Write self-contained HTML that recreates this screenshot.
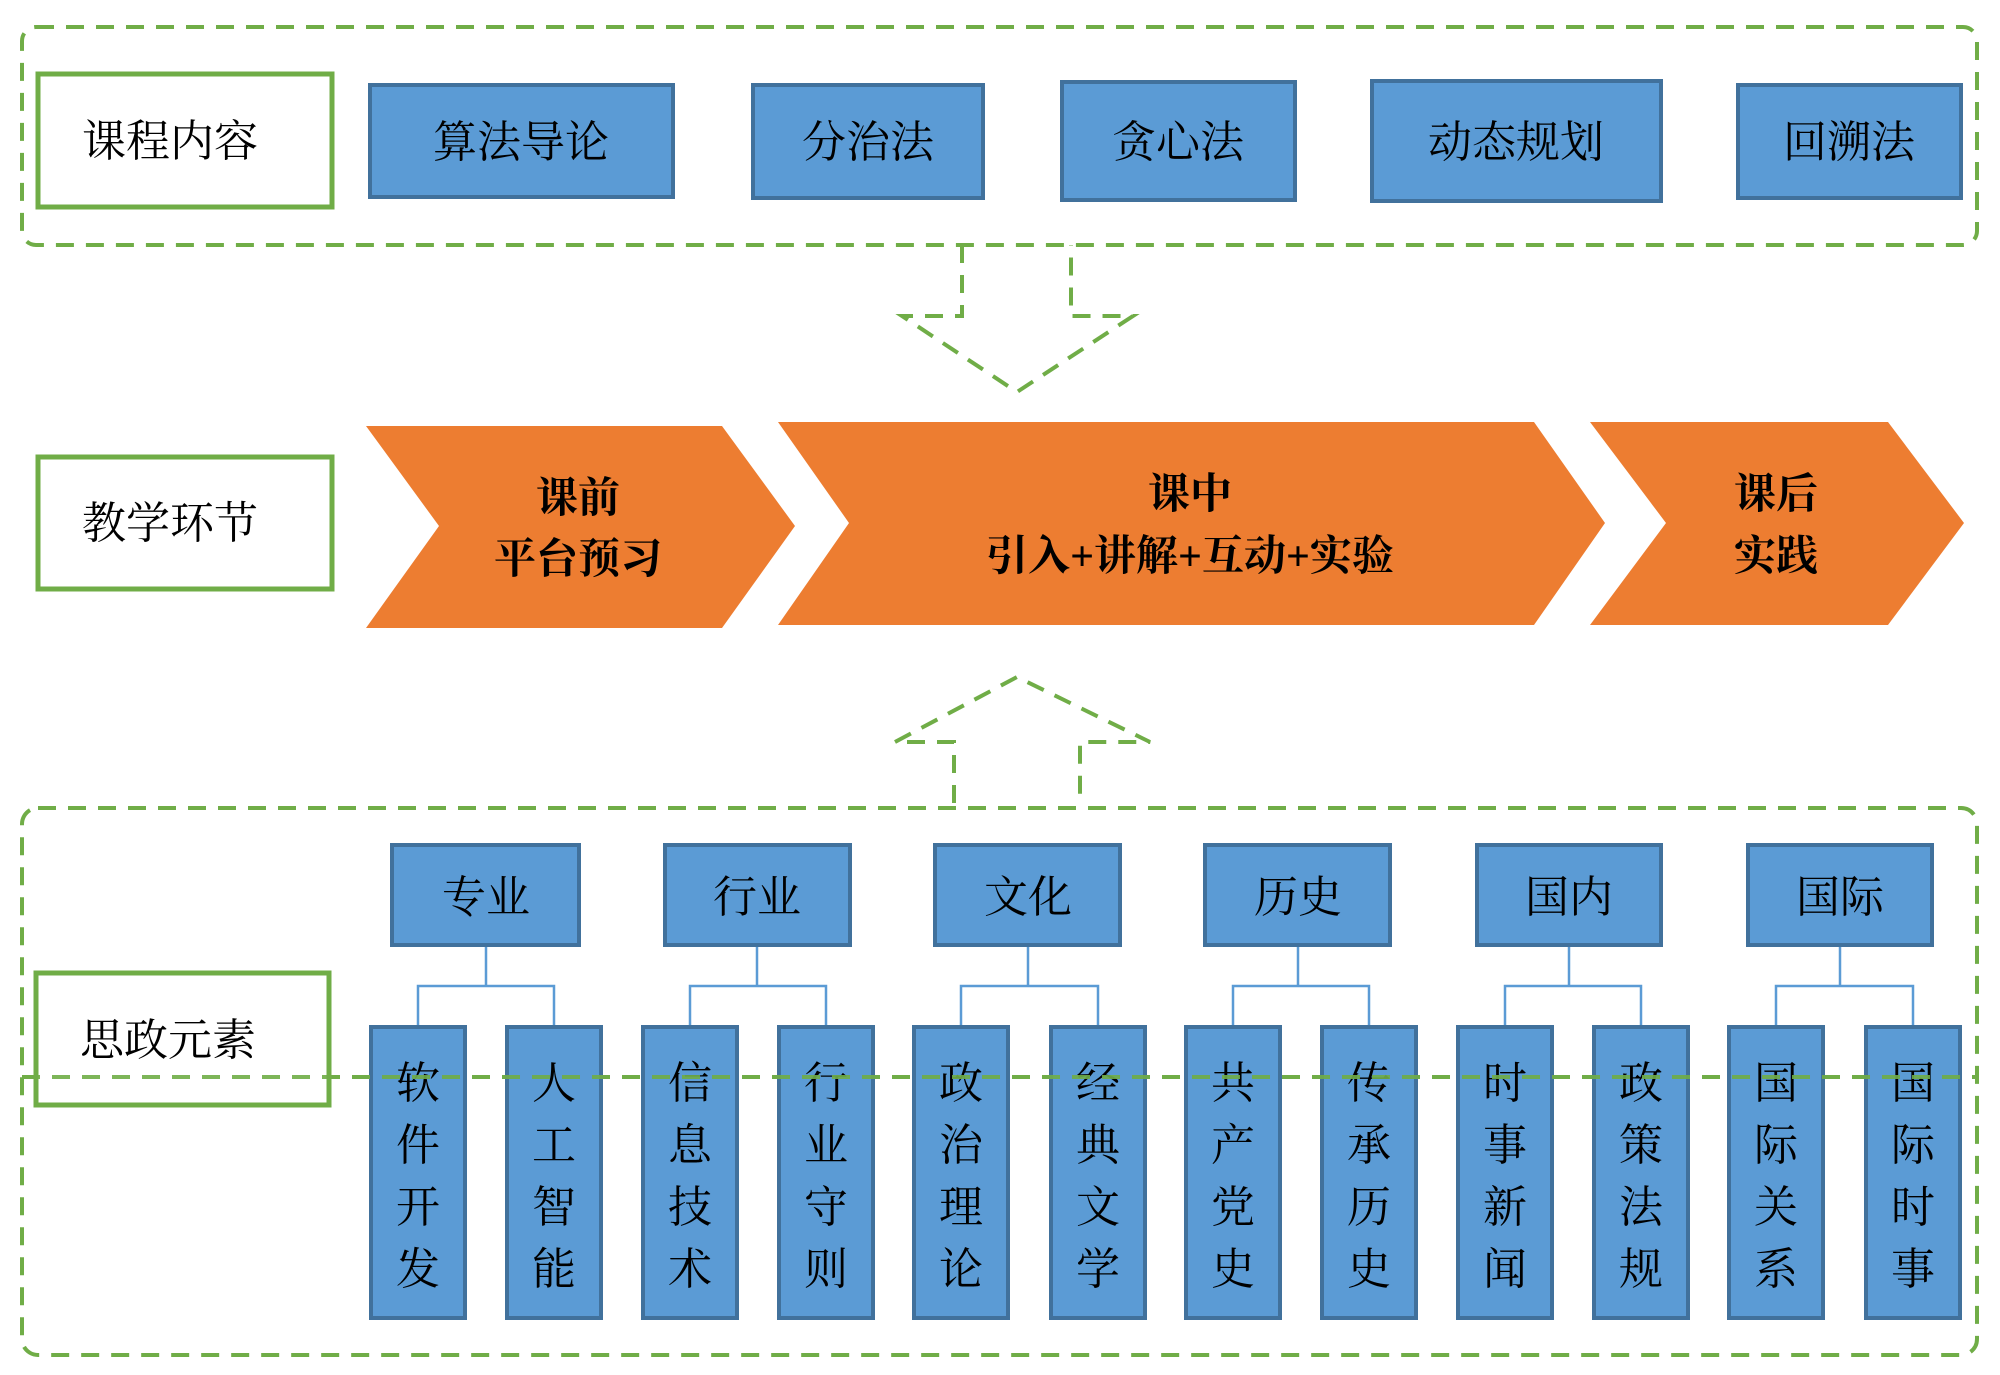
<!DOCTYPE html>
<html><head><meta charset="utf-8"><style>
html,body{margin:0;padding:0;background:#fff;}
svg{display:block;}
text{font-family:"Liberation Serif","Noto Serif CJK SC",serif;fill:#000;}
.b{font-family:"Liberation Sans","Noto Sans CJK SC",sans-serif;font-weight:bold;}
</style></head><body>
<svg width="2000" height="1375" viewBox="0 0 2000 1375" xmlns="http://www.w3.org/2000/svg">
<g fill="none" stroke="#70ad47" stroke-width="4" stroke-dasharray="18,12">
<rect x="22" y="27" width="1955" height="218" rx="14"/>
<rect x="22" y="808" width="1955" height="547" rx="16"/>
<line x1="22" y1="1077" x2="1977" y2="1077"/>
<path d="M962 245 V316 H902 L1017 392 L1133 316 H1071 V245"/>
<path d="M954 803 V742 H895 L1017 677 L1150 742 H1080 V803"/>
</g>
<g fill="#fff" stroke="#70ad47" stroke-width="5">
<rect x="38" y="74" width="294" height="133"/>
<rect x="38" y="457" width="294" height="132"/>
<rect x="36" y="973" width="293" height="132"/>
</g>
<g font-size="44" text-anchor="middle">
<text x="170" y="156">课程内容</text>
<text x="170" y="538">教学环节</text>
<text x="168" y="1055">思政元素</text>
</g>
<g fill="#5b9bd5" stroke="#41719c" stroke-width="4">
<rect x="370" y="85" width="303" height="112"/>
<rect x="753" y="85" width="230" height="113"/>
<rect x="1062" y="82" width="233" height="118"/>
<rect x="1372" y="81" width="289" height="120"/>
<rect x="1738" y="85" width="223" height="113"/>
</g>
<g font-size="44" text-anchor="middle">
<text x="521" y="157">算法导论</text>
<text x="868" y="157">分治法</text>
<text x="1178" y="157">贪心法</text>
<text x="1516" y="157">动态规划</text>
<text x="1849" y="157">回溯法</text>
</g>
<g fill="#ed7d31">
<polygon points="366,426 722,426 795,526 722,628 366,628 439,526"/>
<polygon points="778,422 1534,422 1605,523 1534,625 778,625 849,523"/>
<polygon points="1590,422 1888,422 1964,523 1888,625 1590,625 1666,523"/>
</g>
<g class="b" font-size="42" text-anchor="middle">
<text x="578" y="512">课前</text>
<text x="578" y="573">平台预习</text>
<text x="1190" y="508">课中</text>
<text x="1190" y="570">引入+讲解+互动+实验</text>
<text x="1776" y="508">课后</text>
<text x="1776" y="570">实践</text>
</g>
<g stroke="#5b9bd5" stroke-width="2.5" fill="none">
<path d="M486 945 V986 M418 1025 V986 H554 V1025"/>
<path d="M757 945 V986 M690 1025 V986 H826 V1025"/>
<path d="M1028 945 V986 M961 1025 V986 H1098 V1025"/>
<path d="M1298 945 V986 M1233 1025 V986 H1369 V1025"/>
<path d="M1569 945 V986 M1505 1025 V986 H1641 V1025"/>
<path d="M1840 945 V986 M1776 1025 V986 H1913 V1025"/>
</g>
<g fill="#5b9bd5" stroke="#41719c" stroke-width="4">
<rect x="392" y="845" width="187" height="100"/>
<rect x="665" y="845" width="185" height="100"/>
<rect x="935" y="845" width="185" height="100"/>
<rect x="1205" y="845" width="185" height="100"/>
<rect x="1477" y="845" width="184" height="100"/>
<rect x="1748" y="845" width="184" height="100"/>
<rect x="371" y="1027" width="94" height="291"/>
<rect x="507" y="1027" width="94" height="291"/>
<rect x="643" y="1027" width="94" height="291"/>
<rect x="779" y="1027" width="94" height="291"/>
<rect x="914" y="1027" width="94" height="291"/>
<rect x="1051" y="1027" width="94" height="291"/>
<rect x="1186" y="1027" width="94" height="291"/>
<rect x="1322" y="1027" width="94" height="291"/>
<rect x="1458" y="1027" width="94" height="291"/>
<rect x="1594" y="1027" width="94" height="291"/>
<rect x="1729" y="1027" width="94" height="291"/>
<rect x="1866" y="1027" width="94" height="291"/>
</g>
<g font-size="44" text-anchor="middle">
<text x="486" y="912">专业</text>
<text x="757" y="912">行业</text>
<text x="1028" y="912">文化</text>
<text x="1298" y="912">历史</text>
<text x="1569" y="912">国内</text>
<text x="1840" y="912">国际</text>
</g>
<g font-size="44" text-anchor="middle">
<text x="418" y="1098">软</text><text x="418" y="1160">件</text><text x="418" y="1222">开</text><text x="418" y="1284">发</text>
<text x="554" y="1098">人</text><text x="554" y="1160">工</text><text x="554" y="1222">智</text><text x="554" y="1284">能</text>
<text x="690" y="1098">信</text><text x="690" y="1160">息</text><text x="690" y="1222">技</text><text x="690" y="1284">术</text>
<text x="826" y="1098">行</text><text x="826" y="1160">业</text><text x="826" y="1222">守</text><text x="826" y="1284">则</text>
<text x="961" y="1098">政</text><text x="961" y="1160">治</text><text x="961" y="1222">理</text><text x="961" y="1284">论</text>
<text x="1098" y="1098">经</text><text x="1098" y="1160">典</text><text x="1098" y="1222">文</text><text x="1098" y="1284">学</text>
<text x="1233" y="1098">共</text><text x="1233" y="1160">产</text><text x="1233" y="1222">党</text><text x="1233" y="1284">史</text>
<text x="1369" y="1098">传</text><text x="1369" y="1160">承</text><text x="1369" y="1222">历</text><text x="1369" y="1284">史</text>
<text x="1505" y="1098">时</text><text x="1505" y="1160">事</text><text x="1505" y="1222">新</text><text x="1505" y="1284">闻</text>
<text x="1641" y="1098">政</text><text x="1641" y="1160">策</text><text x="1641" y="1222">法</text><text x="1641" y="1284">规</text>
<text x="1776" y="1098">国</text><text x="1776" y="1160">际</text><text x="1776" y="1222">关</text><text x="1776" y="1284">系</text>
<text x="1913" y="1098">国</text><text x="1913" y="1160">际</text><text x="1913" y="1222">时</text><text x="1913" y="1284">事</text>
</g>
<line x1="22" y1="1077" x2="1977" y2="1077" stroke="#70ad47" stroke-width="4" stroke-dasharray="18,12" opacity="0.9"/>
</svg>
</body></html>
